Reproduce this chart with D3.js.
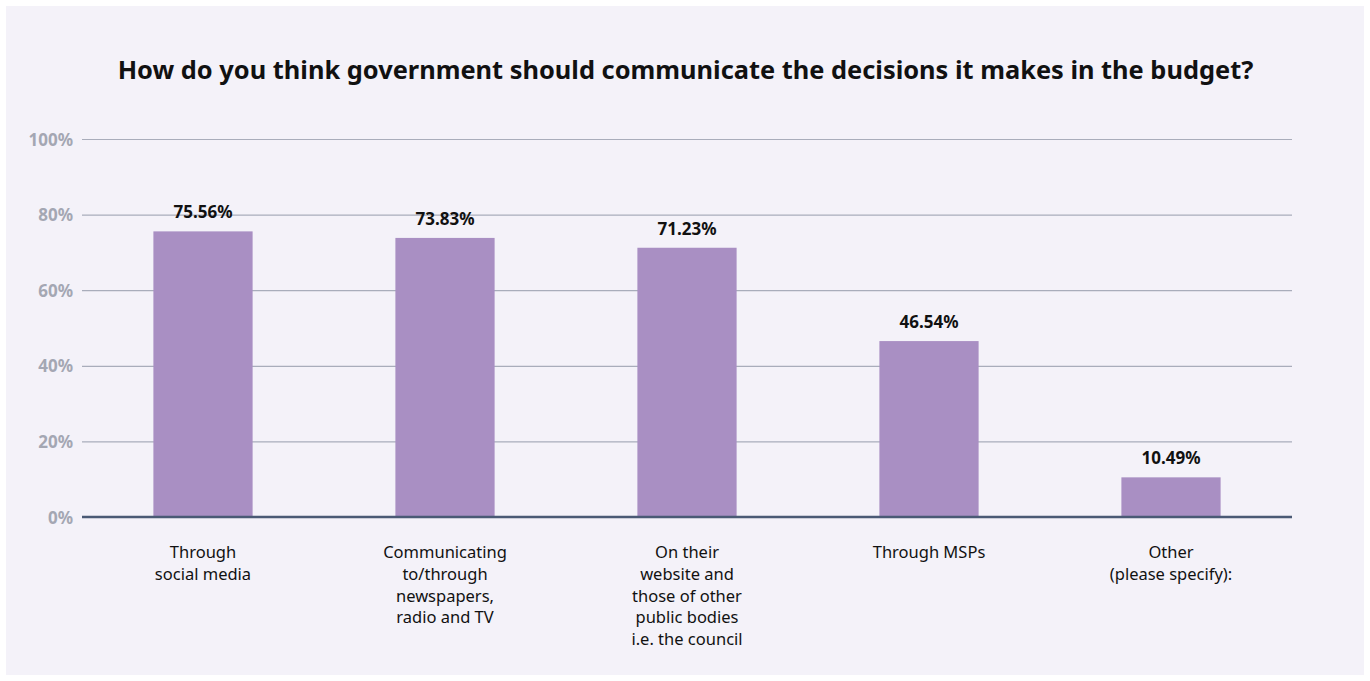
<!DOCTYPE html>
<html>
<head>
<meta charset="utf-8">
<script src="https://cdn.jsdelivr.net/npm/d3@7"></script>
<style>
  body { margin: 0; background: #fff; }
  svg { display: block; font-family: "Noto Sans", "Open Sans", sans-serif; }
</style>
</head>
<body>
<svg id="chart"></svg>
<script>
  const W = 1370, H = 681;

  // data
  const categories = [
    ["Through", "social media"],
    ["Communicating", "to/through", "newspapers,", "radio and TV"],
    ["On their", "website and", "those of other", "public bodies", "i.e. the council"],
    ["Through MSPs"],
    ["Other", "(please specify):"]
  ];
  const values = [75.56, 73.83, 71.23, 46.54, 10.49];
  const yTicks = [0, 20, 40, 60, 80, 100];
  const title = "How do you think government should communicate the decisions it makes in the budget?";

  const svg = d3.select("#chart").attr("width", W).attr("height", H);

  // panel
  svg.append("rect").attr("x", 6).attr("y", 6).attr("width", W - 12).attr("height", H - 12)
    .attr("fill", "#f4f2f9");

  const m = { left: 82, right: 78, top: 139, bottom: 164 };
  const x = d3.scaleBand().domain(d3.range(values.length))
    .range([m.left, W - m.right]).paddingInner(0.59).paddingOuter(0.295);
  const y = d3.scaleLinear().domain([0, 100]).range([H - m.bottom, m.top]);

  svg.append("text").attr("x", 685.5).attr("y", 79).attr("text-anchor", "middle")
    .attr("font-size", 25.4).attr("font-weight", "bold").attr("fill", "#111")
    .text(title);

  // grid + y ticks
  const yAxis = svg.append("g").attr("transform", `translate(${m.left},0)`)
    .call(d3.axisLeft(y).tickValues(yTicks).tickSize(-(W - m.left - m.right)).tickFormat(d => d + "%"));
  yAxis.select(".domain").remove();
  yAxis.selectAll(".tick line").attr("stroke", "#a9adbb").attr("stroke-width", 1.2);
  yAxis.selectAll(".tick text").attr("x", -9).attr("dy", "0.36em")
    .attr("font-size", 17).attr("font-weight", "bold").attr("fill", "#a4a7b3")
    .attr("font-family", "'Noto Sans', sans-serif");

  // bars
  svg.append("g").selectAll("rect").data(values).join("rect")
    .attr("x", (d, i) => x(i)).attr("width", x.bandwidth())
    .attr("y", d => y(d)).attr("height", d => y(0) - y(d))
    .attr("fill", "#a98fc3");

  // value labels
  svg.append("g").selectAll("text").data(values).join("text")
    .attr("x", (d, i) => x(i) + x.bandwidth() / 2).attr("y", d => y(d) - 13)
    .attr("text-anchor", "middle").attr("font-size", 17).attr("font-weight", "bold").attr("fill", "#111")
    .text(d => d.toFixed(2) + "%");

  // baseline
  svg.append("line").attr("x1", m.left).attr("x2", W - m.right)
    .attr("y1", y(0)).attr("y2", y(0)).attr("stroke", "#4a5a75").attr("stroke-width", 2.5);

  // category labels
  svg.append("g").selectAll("text").data(categories).join("text")
    .attr("x", (d, i) => x(i) + x.bandwidth() / 2).attr("y", y(0) + 41)
    .attr("text-anchor", "middle").attr("font-size", 16.5).attr("fill", "#111")
    .each(function (lines) {
      const t = d3.select(this), cx = t.attr("x");
      lines.forEach((l, j) => t.append("tspan").attr("x", cx).attr("dy", j ? 21.8 : 0).text(l));
    });
</script>
</body>
</html>
